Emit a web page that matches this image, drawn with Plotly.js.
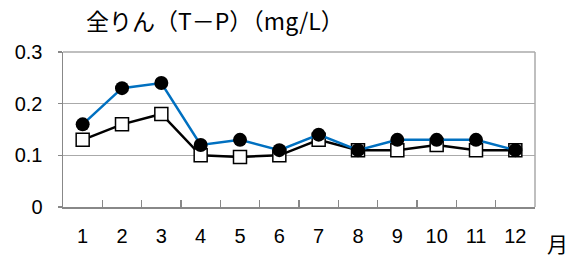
<!DOCTYPE html>
<html><head><meta charset="utf-8">
<script src="https://cdn.plot.ly/plotly-3.0.1.min.js"></script>
<style>html,body{margin:0;padding:0;background:#fff;}#c{width:574px;height:257px;}</style>
</head><body><div id="c"></div>
<script>
const months = ["1","2","3","4","5","6","7","8","9","10","11","12"];
const seriesA = [0.16,0.23,0.24,0.12,0.13,0.11,0.14,0.11,0.13,0.13,0.13,0.11];
const seriesB = [0.13,0.16,0.18,0.10,0.097,0.10,0.13,0.11,0.11,0.12,0.11,0.11];
const yTicks = [0,0.1,0.2,0.3];
const yTickText = ["0","0.1","0.2","0.3"];

const traces = [
  {x: months, y: seriesB, type:"scatter", mode:"lines+markers",
   line:{color:"#000000", width:2.5},
   marker:{symbol:"square", size:13, color:"#ffffff", line:{color:"#000000", width:1.5}}},
  {x: months, y: seriesA, type:"scatter", mode:"lines+markers",
   line:{color:"#0070c0", width:2.5},
   marker:{symbol:"circle", size:14, color:"#000000", line:{width:0}}}
];
const layout = {
  width:574, height:257, showlegend:false,
  paper_bgcolor:"#ffffff", plot_bgcolor:"#ffffff",
  margin:{l:63, r:39, t:52, b:50},
  font:{family:"Liberation Sans, Arial, sans-serif", size:20, color:"#000"},
  title:{text:"全りん（T－P）（mg/L）", x:86/574, xanchor:"left", y:1-22/257, yanchor:"middle",
         font:{family:"Noto Sans CJK JP", size:23, color:"#000"}},
  xaxis:{type:"category", range:[-0.5,11.5], tickmode:"array", tickvals:months, ticktext:months,
         tickson:"boundaries", ticks:"inside", ticklen:7, tickcolor:"#888", tickwidth:1.5,
         showline:true, linecolor:"#888", linewidth:1.5, mirror:false,
         showgrid:false, zeroline:false, fixedrange:true, ticklabelstandoff:10,
         tickfont:{size:20}},
  yaxis:{range:[0,0.3], tickmode:"array", tickvals:yTicks, ticktext:yTickText,
         ticks:"outside", ticklen:4, tickcolor:"#888", tickwidth:1.5,
         showline:true, linecolor:"#888", linewidth:1.5,
         showgrid:true, gridcolor:"#aaaaaa", gridwidth:1.5, zeroline:false,
         ticklabelstandoff:11, tickfont:{size:20}},
  shapes:[{type:"line", xref:"paper", yref:"paper", x0:0, x1:1, y0:1, y1:1, line:{color:"#aaaaaa", width:1.5}},
          {type:"line", xref:"paper", yref:"paper", x0:1, x1:1, y0:0, y1:1, line:{color:"#aaaaaa", width:1.5}}],
  annotations:[{text:"月", xref:"paper", yref:"paper", x:(557-63)/472, y:-(243-207)/155,
                xanchor:"center", yanchor:"middle", showarrow:false,
                font:{family:"Noto Sans CJK JP", size:21, color:"#000"}}]
};
Plotly.newPlot("c", traces, layout, {displayModeBar:false, staticPlot:true});
</script></body></html>
